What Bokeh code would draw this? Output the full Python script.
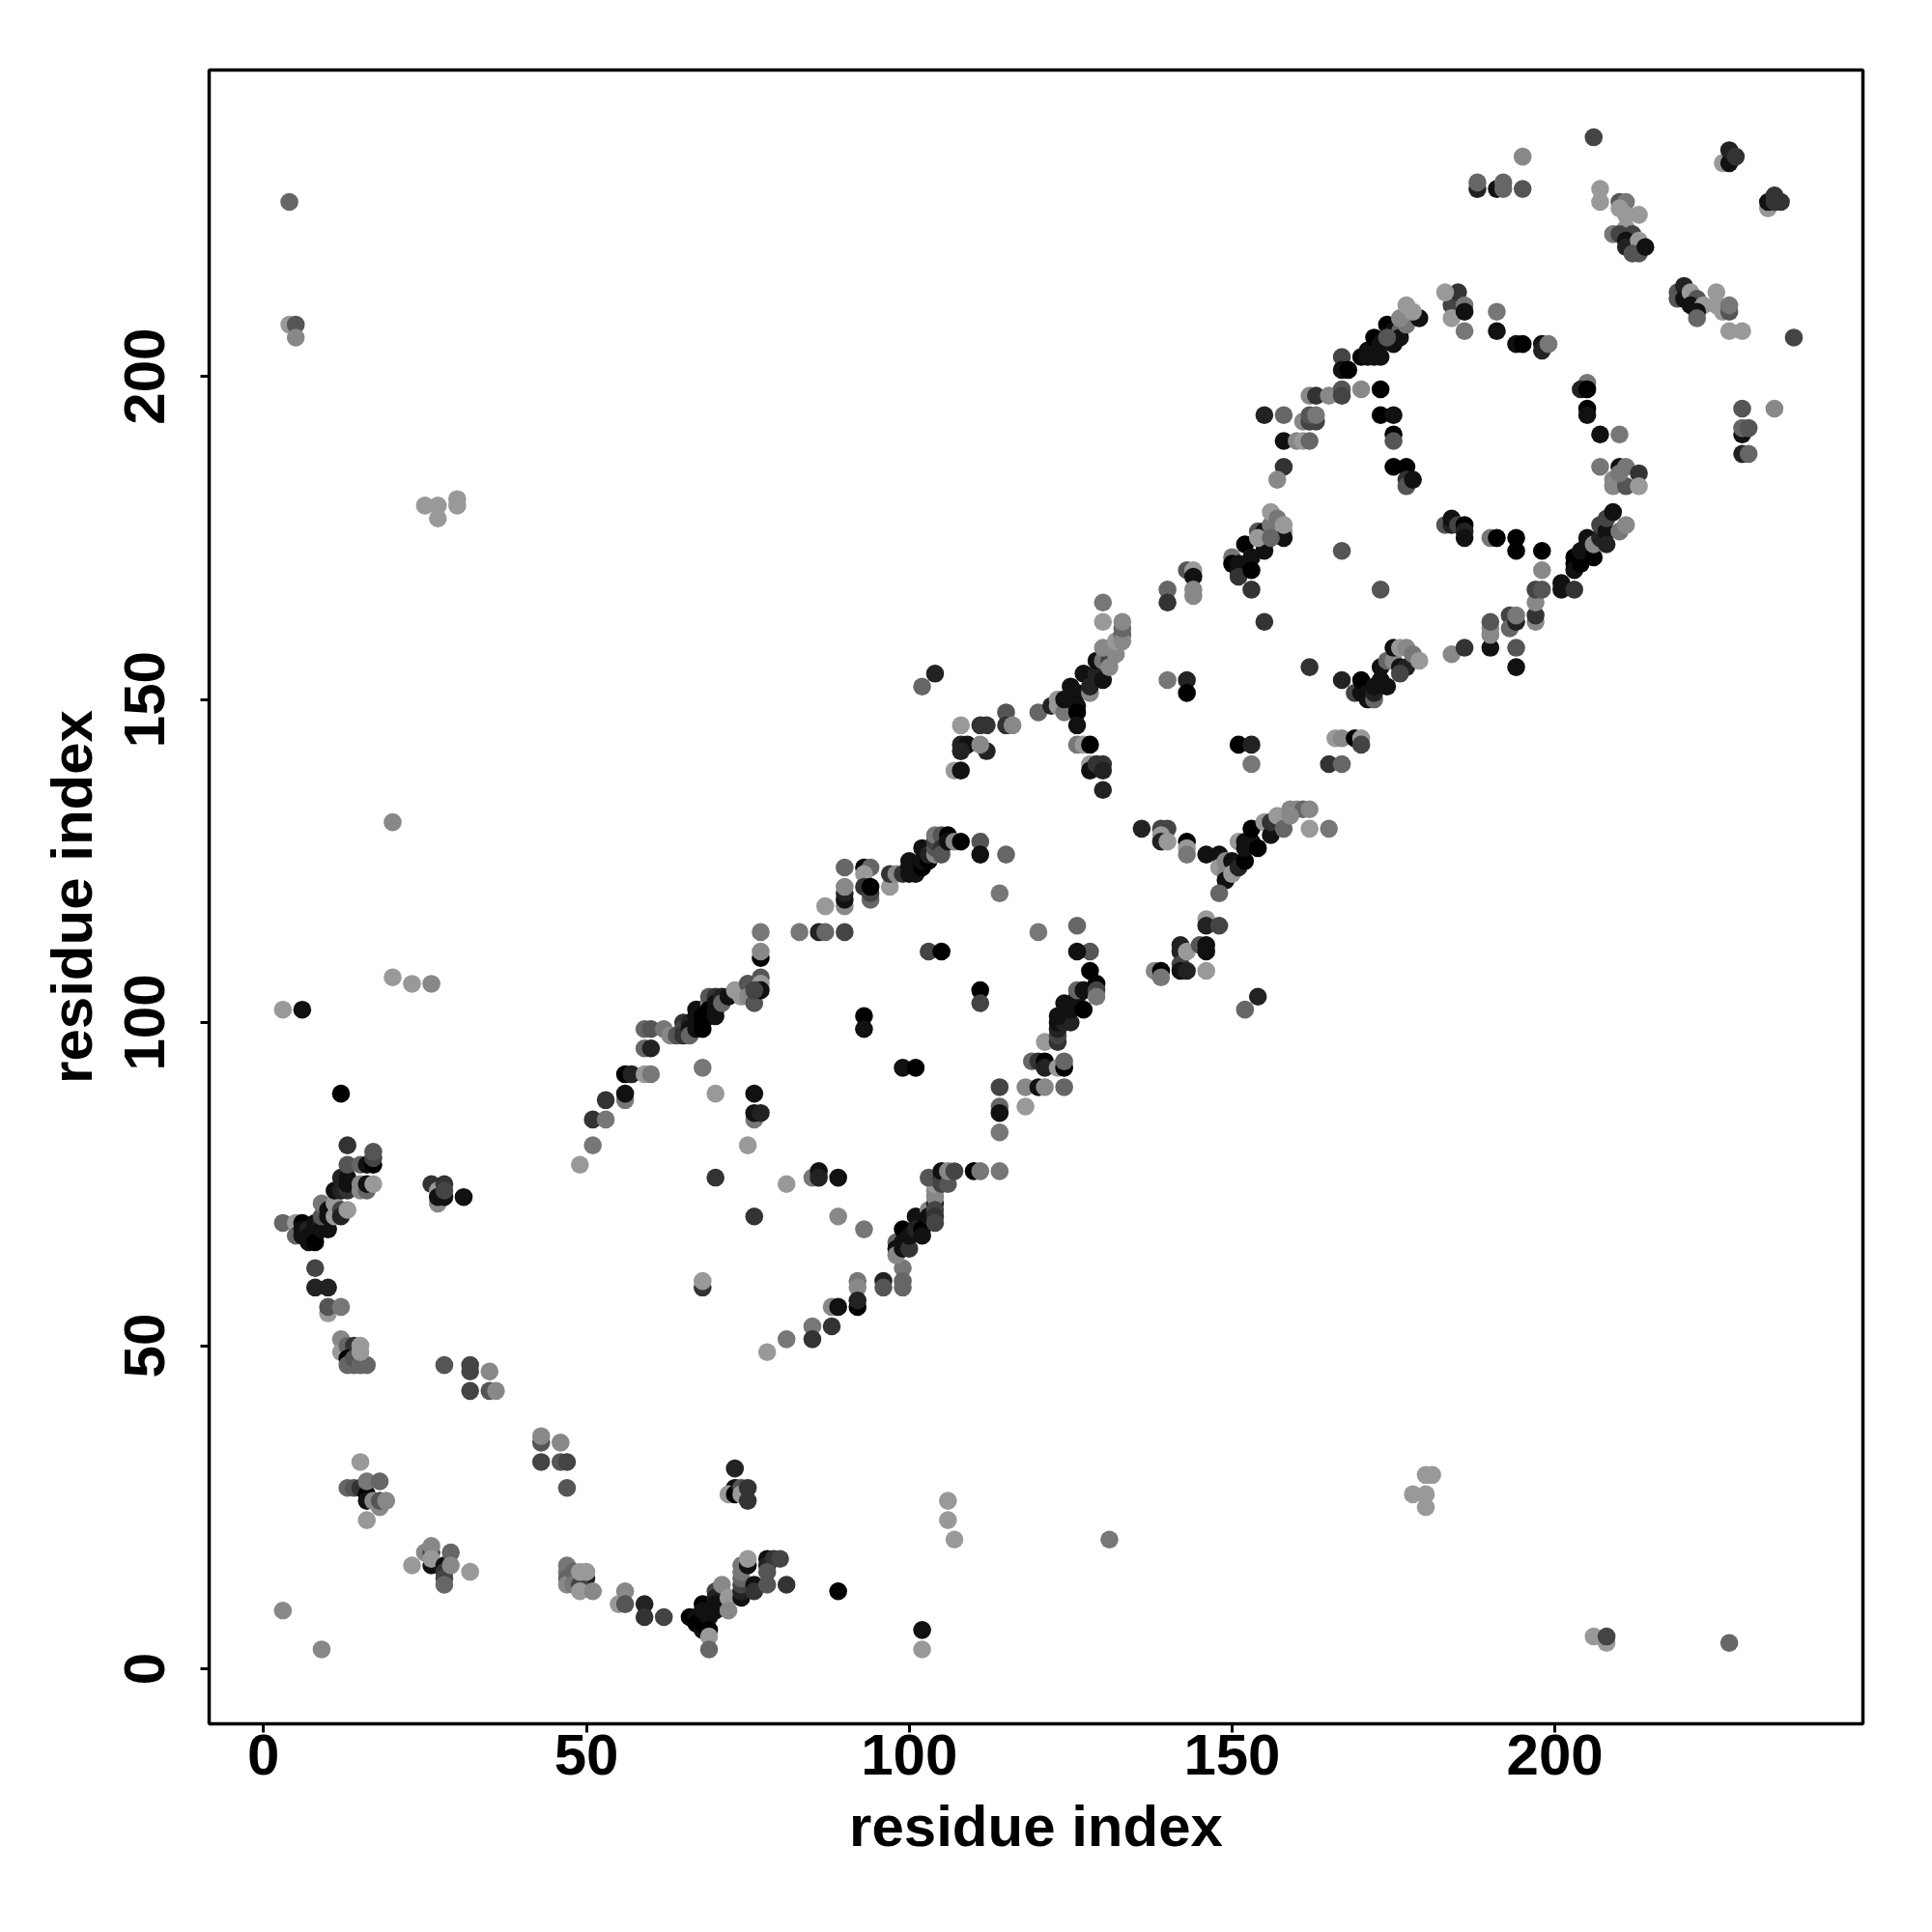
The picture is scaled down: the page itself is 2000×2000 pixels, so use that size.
from bokeh.plotting import figure
from bokeh.models import Range1d, FixedTicker, ColumnDataSource
from bokeh.embed import file_html
from bokeh.resources import INLINE

# residue pairs by region: x index, y index, shade level (0 = black ... 9 = light grey)
x_a = [3,9,8,8,10,10,10,12,12,12,13,14,13,13,14,14,15,16,15,15,28,32,32,35,32,35,36,43,43,46,43,46,47,47]
y_a = [9,3,62,59,59,55,56,56,51,49,50,50,48,47,47,48,47,47,50,49,47,47,46,46,43,43,43,35,36,35,32,32,32,28]
s_a = [8,8,4,2,2,9,5,7,8,9,6,3,0,6,6,5,6,6,9,9,5,4,4,8,4,5,8,5,8,8,4,5,4,5]

x_b = [15,13,14,15,16,16,16,18,17,18,18,19,16,23,25,26,26,26,26,28,28,28,28,29,29,32]
y_b = [32,28,28,28,27,26,29,29,26,25,26,26,23,16,18,18,19,16,17,16,15,14,13,18,16,15]
s_b = [9,6,5,3,0,1,7,6,8,8,5,8,9,9,8,4,8,1,9,1,3,4,6,6,8,9]

x_c = [47,47,47,47,48,48,50,49,49,50,49,51,55,56,56,59,59,62]
y_c = [16,15,14,13,15,13,14,13,15,15,12,12,10,12,10,10,8,8]
s_c = [7,7,6,8,6,7,2,4,9,9,9,8,9,8,5,2,3,4]

x_d = [66,67,67,68,68,68,68,69,69,69,69,69,70,70,70,70,71,72,72,73,73,72,73,74,74,75,75]
y_d = [8,8,7,6,7,10,9,8,9,6,5,3,12,11,10,9,13,11,9,31,28,27,27,28,27,28,26]
s_d = [0,1,0,1,0,0,1,1,1,0,9,6,4,2,1,1,8,9,8,2,1,9,0,5,9,3,3]

x_e = [74,74,74,74,74,74,75,75,76,76,78,78,79,80,78,78,81,89,102,102]
y_e = [11,12,13,14,15,16,16,17,13,12,17,16,17,17,15,13,13,12,6,3]
s_e = [1,2,4,6,7,7,1,9,1,3,1,2,3,4,5,5,3,0,1,9]

x_f = [3,5,5,6,6,6,7,7,7,8,8,8,8,9,9,10,9,9,10,10,11,11,12,12,13,11,12,13,12,13,13,15,15,16,16,17,13,15,16,17,17,17,13,12]
y_f = [69,69,67,69,68,67,68,67,66,69,68,67,66,69,68,68,70,72,71,70,72,70,71,70,71,74,74,74,76,76,75,75,74,74,75,75,78,78,78,78,79,80,81,89]
s_f = [6,9,6,0,1,1,2,1,1,1,1,1,0,2,1,1,5,7,1,1,9,9,4,2,9,1,2,3,2,1,1,8,8,6,1,9,5,6,1,0,4,5,3,0]

x_g = [26,27,27,27,28,28,28,31,20,20,23,26,3,6,4,4,5,5,25,27,27,30,30]
y_g = [75,74,72,73,73,75,74,73,131,107,106,106,102,102,227,208,208,206,180,180,178,181,180]
s_g = [3,9,8,1,1,3,4,1,8,9,9,8,9,1,6,9,5,8,9,9,9,9,9]

x_h = [49,51,51,53,53,56,56,56,57,59,60,59,60,59,60,62,63,64,65,65,65,66,66,66,67,67,67,67,68,68,68,68]
y_h = [78,81,85,85,88,88,89,92,92,92,92,96,96,99,99,99,98,98,100,99,98,100,99,98,102,101,100,99,102,101,100,99]
s_h = [9,7,3,7,3,7,1,0,2,9,7,6,2,6,5,7,8,5,3,4,3,2,1,6,1,1,1,1,1,0,0,0]

x_i = [69,69,69,69,70,70,70,70,71,71,72,73,74,75,75,76,77,77,77,76,77,77,77]
y_i = [103,104,102,101,104,103,102,101,104,103,104,105,104,106,104,103,107,106,105,105,110,111,114]
s_i = [8,5,0,0,3,1,1,1,2,6,1,9,9,5,8,5,5,9,1,4,0,8,7]

x_j = [83,86,87,90,87,90,90,90,90,90,93,94,93,93,94,94,94,97,97,98,99,100,101,100,100,101]
y_j = [114,114,114,114,118,118,119,120,121,124,124,124,123,121,119,120,121,121,123,123,123,123,123,124,125,124]
s_j = [7,2,6,4,9,8,1,2,8,6,0,6,9,3,6,4,0,9,3,8,3,1,1,1,1,1]

x_k = [102,102,102,103,103,104,104,104,104,105,105,105,106,106,107,108,111,111,115,114]
y_k = [124,125,127,125,126,126,127,128,129,129,127,126,129,128,128,128,128,126,126,120]
s_k = [0,1,1,0,2,8,5,4,7,5,3,5,0,1,8,0,5,1,6,7]

x_l = [68,70,76,76,76,77,75,70,76,81,85,86,86,89,89,93,68,68,93,93,99,101,103,105,111,111]
y_l = [93,89,89,85,86,86,81,76,70,75,76,77,76,76,70,68,59,60,101,99,93,93,111,111,105,103]
s_l = [7,9,1,7,1,2,9,3,3,9,7,1,2,1,8,7,3,9,0,1,1,0,4,0,0,4]

x_m = [78,81,85,85,88,88,89,92,92,92,92,96,96,99,99,99,98,98,98,99,99,99,100,100]
y_m = [49,51,53,51,53,56,56,60,59,56,57,60,59,62,60,59,66,65,64,68,66,65,65,67]
s_m = [9,7,7,3,3,8,1,7,8,0,2,2,5,7,6,6,6,1,8,0,1,1,3,1]

x_n = [101,101,102,102,103,103,104,104,104,104,104,104,104,103,105,105,105,106,106,107,110,111,114]
y_n = [70,68,68,67,71,70,72,73,71,70,69,74,75,76,76,75,77,75,77,77,77,77,77]
s_n = [1,2,0,1,8,1,2,8,4,3,4,8,9,5,3,4,1,5,8,4,0,7,7]

x_o = [114,114,114,114,118,118,119,120,121,121,120,121,124,123,124,124,121,123,123,123,123,124,125,123,124,125]
y_o = [90,87,86,83,90,87,94,94,94,93,90,90,90,93,93,94,97,97,98,99,100,100,100,101,103,102]
s_o = [4,6,1,7,8,9,6,3,0,2,1,8,6,9,0,6,9,3,4,2,1,2,2,1,1,1]

x_p = [126,126,127,127,128,128,126,126,120,129,129,129]
y_p = [104,105,105,102,108,111,111,115,114,106,105,104]
s_p = [1,6,1,0,0,5,1,6,7,0,4,7]

x_q = [130,136,139,140,139,139,140,143,143,143,146,148,148,149,149,149,148,150,150,151,152,151,152,152,153,153,154,155,156,156,157,158,159,160,161,162,159,162,165]
y_q = [136,130,130,130,129,128,128,128,127,126,126,126,124,125,123,122,120,125,123,124,125,128,127,128,128,130,127,131,129,131,132,130,133,133,133,133,132,130,130]
s_q = [2,2,4,4,9,2,9,0,9,7,1,1,9,8,8,1,6,1,9,2,0,9,1,1,1,0,0,9,1,3,9,6,8,8,6,8,8,9,7]

x_r = [138,139,139,142,142,142,142,143,143,145,146,146,146,146,146,148,154,152]
y_r = [108,108,107,112,111,109,108,111,108,112,112,111,108,116,115,115,104,102]
s_r = [8,0,7,2,2,4,1,9,2,5,1,1,9,9,2,4,2,6]

x_s = [108,108,107,108,109,108,111,112,112,111,115,115,116,102,104]
y_s = [146,143,139,139,143,142,146,146,142,143,148,146,146,152,154]
s_s = [9,2,9,1,1,2,3,3,2,8,5,3,8,6,2]

x_t = [120,122,123,123,124,124,125,126,126,126,126,127,128,128,129,129,130,130,131,131,130,132,132,133,133,133,133,130,130]
y_t = [148,149,150,149,148,150,152,151,149,148,146,154,151,152,154,156,153,156,156,155,158,157,159,160,159,161,162,162,165]
s_t = [6,2,9,9,7,1,1,1,1,0,1,1,8,2,2,1,1,7,4,8,8,8,9,6,8,6,8,9,7]

x_u = [126,127,128,128,128,129,130,130,140,140,143,144,144,144,144,140,143,143,151,153,153,166,167,169,170,170,165,167]
y_u = [143,143,143,140,139,140,140,139,167,165,170,170,169,167,166,153,153,151,143,143,140,144,144,144,144,143,140,140]
s_u = [7,9,0,9,1,3,3,2,6,3,5,9,1,8,8,7,2,0,0,2,7,9,8,0,9,4,3,6]

x_v = [150,150,151,151,151,152,153,153,153,155,155,154,155,156,156,157,158,158,158,154,156]
y_v = [172,171,171,170,169,174,172,170,167,174,173,176,176,177,179,178,176,175,177,175,175]
s_v = [7,0,1,1,3,0,1,0,3,2,1,5,1,7,9,7,9,1,9,9,6]

x_w = [155,162,167,167,173,155,158,158,160,161,162,158,157,161,162,163,162,163,162,163,165,167,167,170,173]
y_w = [162,155,153,173,167,194,194,190,190,190,190,186,184,193,193,193,194,194,197,197,197,198,197,198,198]
s_w = [3,3,2,5,5,2,6,1,8,9,6,3,8,8,4,4,5,7,8,3,8,5,4,8,0]

x_x = [167,167,168,170,171,172,173,171,172,173,174,175,175,176,176,177,174,179,176,177,178,173,175,175,175,175,177,177,177,178]
y_x = [203,201,201,203,203,203,203,204,206,205,208,205,207,207,206,208,206,209,209,211,210,194,194,191,190,186,186,184,183,184]
s_x = [4,1,0,0,1,1,1,1,0,1,0,1,1,6,1,7,5,1,8,9,9,0,1,0,5,0,0,3,5,1]

x_y = [169,170,170,171,171,172,172,172,173,173,174,174,175,175,176,177,176,177,176,178,179]
y_y = [151,151,153,151,150,150,151,152,153,155,152,156,156,158,158,158,155,155,154,157,156]
s_y = [4,1,0,1,1,6,2,1,1,1,1,6,8,1,9,8,1,2,4,7,9]

x_z = [184,186,190,190,190,190,194,194,193,193,194,194,197,197,197,197,198,198,198,201,201,203]
y_z = [157,158,158,160,161,162,158,155,163,161,162,163,162,163,165,167,167,170,173,168,167,167]
s_z = [8,3,1,8,8,5,5,1,4,6,2,7,8,3,8,4,5,8,0,1,1,3]

x_aa = [203,203,203,204,204,205,205,206,206,207,207,208,208,208,209,210,211,183,184,184,185,186,186,186,190,191,194,194]
y_aa = [172,171,170,171,173,174,175,172,174,175,177,176,174,178,179,176,177,177,177,178,177,177,176,175,175,175,175,173]
s_aa = [0,0,1,0,1,1,1,0,8,2,4,1,2,4,1,7,8,5,2,1,4,0,2,1,7,0,0,0]

x_ab = [184,184,185,183,186,186,186,191,191,194,195,198,198,199,205,204,205,205,205,207,210,207,210,211,213,209,209,211,213,210]
y_ab = [211,209,213,213,211,210,207,210,207,205,205,205,204,205,199,198,198,195,194,191,191,186,186,186,185,184,183,183,183,185]
s_ab = [4,9,3,9,7,1,7,7,1,1,0,1,2,7,7,2,0,0,1,1,7,7,1,7,3,8,8,5,9,7]

x_ac = [206,195,188,188,191,192,192,195,207,207,210,211,210,211,213,211,209,210,212,211,211,213,212,213,214]
y_ac = [237,234,229,230,229,230,229,229,229,227,227,227,226,225,225,223,222,222,222,221,220,221,219,219,220]
s_ac = [4,8,2,6,1,6,6,5,9,9,5,7,9,9,9,9,7,4,4,1,2,9,5,5,1]

x_ad = [226,227,227,228,233,233,234,235,234,219,219,220,220,221,222,221,223,222,222,225,225,226,227,227,227,229,237]
y_ad = [233,233,235,234,226,227,228,227,227,213,212,214,212,213,212,211,211,210,209,213,211,210,210,211,207,207,206]
s_ad = [9,1,2,3,9,1,3,3,3,5,5,2,1,9,5,1,9,1,6,9,9,9,5,7,9,9,4]

x_ae = [229,234,229,229,230,229,230,178,180,181,180,180,206,208,208,227,106,106,107,131]
y_ae = [195,195,191,192,192,188,188,27,30,30,27,25,5,4,5,4,26,23,20,20]
s_ae = [5,8,1,6,5,2,6,9,9,9,9,9,9,9,4,6,9,9,9,7]

regions = [(x_a,y_a,s_a),(x_b,y_b,s_b),(x_c,y_c,s_c),(x_d,y_d,s_d),(x_e,y_e,s_e),(x_f,y_f,s_f),
           (x_g,y_g,s_g),(x_h,y_h,s_h),(x_i,y_i,s_i),(x_j,y_j,s_j),(x_k,y_k,s_k),(x_l,y_l,s_l),
           (x_m,y_m,s_m),(x_n,y_n,s_n),(x_o,y_o,s_o),(x_p,y_p,s_p),(x_q,y_q,s_q),(x_r,y_r,s_r),
           (x_s,y_s,s_s),(x_t,y_t,s_t),(x_u,y_u,s_u),(x_v,y_v,s_v),(x_w,y_w,s_w),(x_x,y_x,s_x),
           (x_y,y_y,s_y),(x_z,y_z,s_z),(x_aa,y_aa,s_aa),(x_ab,y_ab,s_ab),(x_ac,y_ac,s_ac),
           (x_ad,y_ad,s_ad),(x_ae,y_ae,s_ae)]

xs, ys, cols = [], [], []
for i, (rx, ry, rs) in enumerate(regions):
    assert len(rx) == len(ry) == len(rs), (i, len(rx), len(ry), len(rs))
    xs += rx
    ys += ry
    cols += ["#%02x%02x%02x" % (v * 17, v * 17, v * 17) for v in rs]

x_ticks = [0, 50, 100, 150, 200]
y_ticks = [0, 50, 100, 150, 200]
FONT = "Liberation Sans"

p = figure(width=1984, height=1984, output_backend="svg", toolbar_location=None,
           x_range=Range1d(-8.42, 247.7), y_range=Range1d(-8.52, 247.4),
           min_border_left=216, min_border_right=56, min_border_top=72, min_border_bottom=200)
p.grid.visible = False
p.outline_line_color = "black"
p.outline_line_width = 3.5

src = ColumnDataSource(dict(x=xs, y=ys, c=cols))
p.scatter("x", "y", source=src, size=18.6, fill_color="c", line_color=None, marker="circle")

for ax, ticks in ((p.xaxis[0], x_ticks), (p.yaxis[0], y_ticks)):
    ax.ticker = FixedTicker(ticks=ticks)
    ax.axis_line_color = None
    ax.major_tick_in = 0
    ax.major_tick_out = 9
    ax.major_tick_line_width = 3
    ax.major_tick_line_color = "black"
    ax.minor_tick_line_color = None
    ax.major_label_text_font = FONT
    ax.major_label_text_font_style = "bold"
    ax.major_label_text_font_size = "60px"
    ax.major_label_text_color = "black"
    ax.axis_label = "residue index"
    ax.axis_label_text_font = FONT
    ax.axis_label_text_font_style = "bold"
    ax.axis_label_text_font_size = "60px"
    ax.axis_label_text_color = "black"

p.xaxis.major_label_standoff = 2
p.xaxis.axis_label_standoff = 17
p.yaxis.major_label_orientation = "parallel"
p.yaxis.major_label_standoff = 37
p.yaxis.axis_label_standoff = 19

open("out.html", "w").write(file_html(p, INLINE))
